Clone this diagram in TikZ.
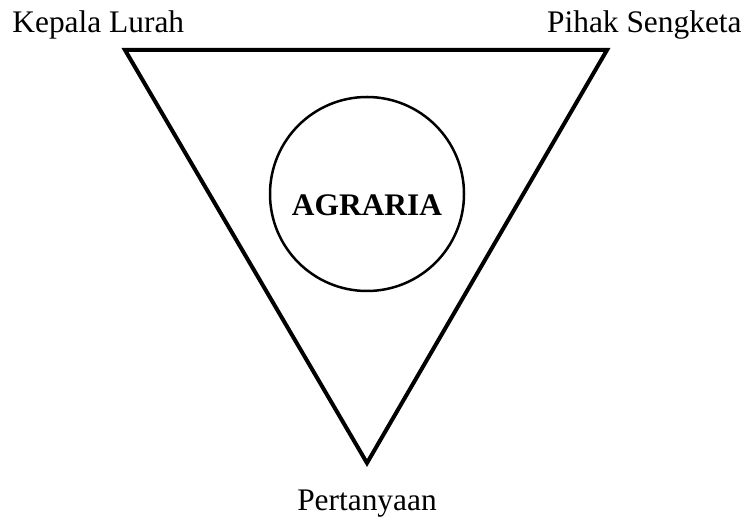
\documentclass[tikz,border=0pt]{standalone}
\usepackage{fontspec}
\setmainfont{Liberation Serif}
\usetikzlibrary{positioning}
\tikzset{
  sisi/.style={line width=2pt,line join=miter},
  lbl/.style={font=\fontsize{15.7}{19}\selectfont,inner sep=0pt},
  lingkar/.style={draw,circle,line width=1.25pt,minimum size=97pt,inner sep=0pt},
  judul/.style={lbl,font=\fontsize{15.7}{19}\selectfont\bfseries}
}
\begin{document}
\begin{tikzpicture}[x=0.5pt,y=-0.5pt]
\useasboundingbox (0,0) rectangle (749,528);
\coordinate (kl) at (125,50);
\coordinate (ps) at (607,50);
\coordinate (pt) at (367,463);
\draw[sisi] (kl) -- (ps) -- (pt) -- cycle;
\node[lingkar] (agr) at (367,194) {};
\node[judul] (agrtxt) at (367,205) {AGRARIA};
\node[lbl,anchor=base west] (lurah) at (12,33) {Kepala Lurah};
\node[lbl,anchor=base east] (pihak) at (742,33) {Pihak Sengketa};
\node[lbl,anchor=base] (tanya) at (367,510) {Pertanyaan};
\end{tikzpicture}
\end{document}
